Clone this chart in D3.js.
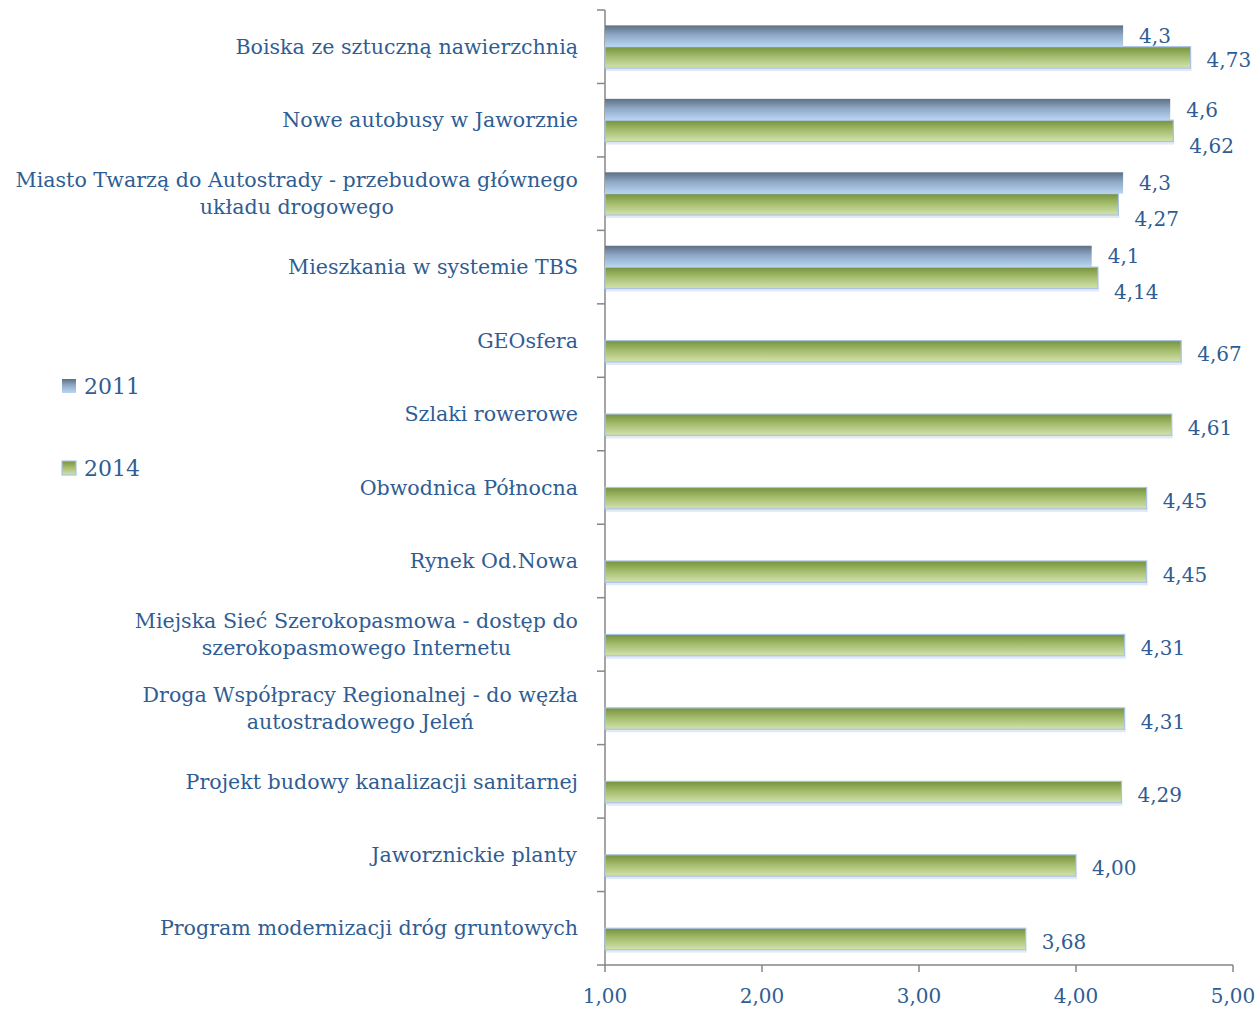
<!DOCTYPE html>
<html>
<head>
<meta charset="utf-8">
<script src="https://cdn.jsdelivr.net/npm/d3@7"></script>
<style>
  body { margin: 0; background: #fff; }
  text { font-family: "DejaVu Serif", serif; fill: #2f5d93; }
</style>
</head>
<body>
<script>
// categories top to bottom
var categories = [
  "Boiska ze sztuczną nawierzchnią",
  "Nowe autobusy w Jaworznie",
  "Miasto Twarzą do Autostrady - przebudowa głównego\nukładu drogowego",
  "Mieszkania w systemie TBS",
  "GEOsfera",
  "Szlaki rowerowe",
  "Obwodnica Północna",
  "Rynek Od.Nowa",
  "Miejska Sieć Szerokopasmowa - dostęp do\nszerokopasmowego Internetu",
  "Droga Współpracy Regionalnej - do węzła\nautostradowego Jeleń",
  "Projekt budowy kanalizacji sanitarnej",
  "Jaworznickie planty",
  "Program modernizacji dróg gruntowych"
];
var values2011 = [4.3, 4.6, 4.3, 4.1, null, null, null, null, null, null, null, null, null];
var values2014 = [4.73, 4.62, 4.27, 4.14, 4.67, 4.61, 4.45, 4.45, 4.31, 4.31, 4.29, 4.00, 3.68];
var seriesNames = ["2011", "2014"];
var xTicks = [1, 2, 3, 4, 5];

var width = 1260, height = 1009;
var svg = d3.select("body").append("svg")
    .attr("width", width)
    .attr("height", height);

var defs = svg.append("defs");
function grad(id, top, mid, bottom) {
  var g = defs.append("linearGradient").attr("id", id)
      .attr("x1", 0).attr("y1", 0).attr("x2", 0).attr("y2", 1);
  g.append("stop").attr("offset", "0%").attr("stop-color", top);
  g.append("stop").attr("offset", "45%").attr("stop-color", mid);
  g.append("stop").attr("offset", "100%").attr("stop-color", bottom);
}
grad("g2011", "#5d7084", "#8ea8c6", "#bad6f2");
grad("g2014", "#76923c", "#a3bb6c", "#d3e3ad");

var x = d3.scaleLinear().domain([1, 5]).range([605, 1233]);
var y = d3.scaleBand().domain(d3.range(categories.length)).range([10, 965]);
var inner = d3.scaleBand().domain([0, 1]).range([0, y.bandwidth()]).paddingOuter(0.72);

var fmt1 = function(v) { return d3.format(".1f")(v).replace(".", ","); };
var fmt2 = function(v) { return d3.format(".2f")(v).replace(".", ","); };

// axes
var axisColor = "#878787";
var gy = svg.append("g");
gy.append("line").attr("x1", x(1)).attr("x2", x(1)).attr("y1", y.range()[0]).attr("y2", y.range()[1])
    .attr("stroke", axisColor).attr("stroke-width", 1.5);
gy.selectAll("line.tk").data(d3.range(categories.length + 1)).enter().append("line")
    .attr("class", "tk")
    .attr("x1", x(1) - 8).attr("x2", x(1))
    .attr("y1", function(i) { return y.range()[0] + i * y.step(); })
    .attr("y2", function(i) { return y.range()[0] + i * y.step(); })
    .attr("stroke", axisColor).attr("stroke-width", 1.5);

var gx = svg.append("g").attr("transform", "translate(0," + y.range()[1] + ")");
gx.append("line").attr("x1", x(1)).attr("x2", x(5)).attr("stroke", axisColor).attr("stroke-width", 1.5);
gx.selectAll("line.tk").data(xTicks).enter().append("line")
    .attr("x1", x).attr("x2", x).attr("y1", 0).attr("y2", 7)
    .attr("stroke", axisColor).attr("stroke-width", 1.5);
gx.selectAll("text").data(xTicks).enter().append("text")
    .attr("x", x).attr("y", 38)
    .attr("text-anchor", "middle")
    .style("font-size", "20px")
    .text(function(d) { return fmt2(d); });

// bars
var bars = svg.append("g");
categories.forEach(function(c, i) {
  var y0 = y(i);
  var v14 = values2014[i], v11 = values2011[i];
  // shadow under 2014 bar
  bars.append("rect")
      .attr("x", x(1) + 1).attr("y", y0 + inner(1) + inner.bandwidth())
      .attr("width", x(v14) - x(1)).attr("height", 3)
      .attr("fill", "#e2e9f4");
  bars.append("rect")
      .attr("x", x(1)).attr("y", y0 + inner(1))
      .attr("width", x(v14) - x(1)).attr("height", inner.bandwidth())
      .attr("fill", "url(#g2014)")
      .attr("stroke", "#a9c2e7").attr("stroke-width", 1.2);
  if (v11 != null) {
    bars.append("rect")
        .attr("x", x(1)).attr("y", y0 + inner(0))
        .attr("width", x(v11) - x(1)).attr("height", inner.bandwidth())
        .attr("fill", "url(#g2011)");
  }
});

// value labels
var labels = svg.append("g").style("font-size", "20px");
categories.forEach(function(c, i) {
  var y0 = y(i);
  var v14 = values2014[i], v11 = values2011[i];
  var y11 = null;
  if (v11 != null) {
    y11 = y0 + inner(0) + inner.bandwidth() / 2;
    labels.append("text")
        .attr("x", x(v11) + 16).attr("y", y11)
        .attr("dy", "0.35em")
        .text(fmt1(v11));
  }
  var y14 = y0 + inner(1) + inner.bandwidth() / 2 + 3;
  var x14 = x(v14) + 16;
  // push the 2014 label down when it would collide with the 2011 label
  if (y11 != null && Math.abs(x14 - (x(v11) + 16)) < 45) {
    y14 = Math.max(y14, y11 + 36);
  }
  labels.append("text")
      .attr("x", x14).attr("y", y14)
      .attr("dy", "0.35em")
      .text(fmt2(v14));
});

// category labels
var catG = svg.append("g").style("font-size", "20.6px");
categories.forEach(function(c, i) {
  var lines = c.split("\n");
  var cy = y(i) + y.bandwidth() / 2;
  var t = catG.append("text").attr("text-anchor", "middle");
  lines.forEach(function(l, k) {
    t.append("tspan")
        .attr("x", 0)
        .attr("y", cy + (k - (lines.length - 1) / 2) * 27)
        .attr("dy", "0.35em")
        .text(l);
  });
  // right-align the block at 578, lines centered among themselves
  var w = t.node().getBBox().width;
  t.selectAll("tspan").attr("x", 578 - w / 2);
});

// legend
var legend = svg.append("g");
seriesNames.forEach(function(s, k) {
  var ly = 386 + k * 82;
  legend.append("rect")
      .attr("x", 62).attr("y", ly - 7).attr("width", 14).attr("height", 14)
      .attr("fill", k === 0 ? "url(#g2011)" : "url(#g2014)")
      .attr("stroke", k === 0 ? "none" : "#a9c2e7").attr("stroke-width", 1.2);
  legend.append("text")
      .attr("x", 84).attr("y", ly).attr("dy", "0.35em")
      .style("font-size", "22px")
      .text(s);
});
</script>
</body>
</html>
